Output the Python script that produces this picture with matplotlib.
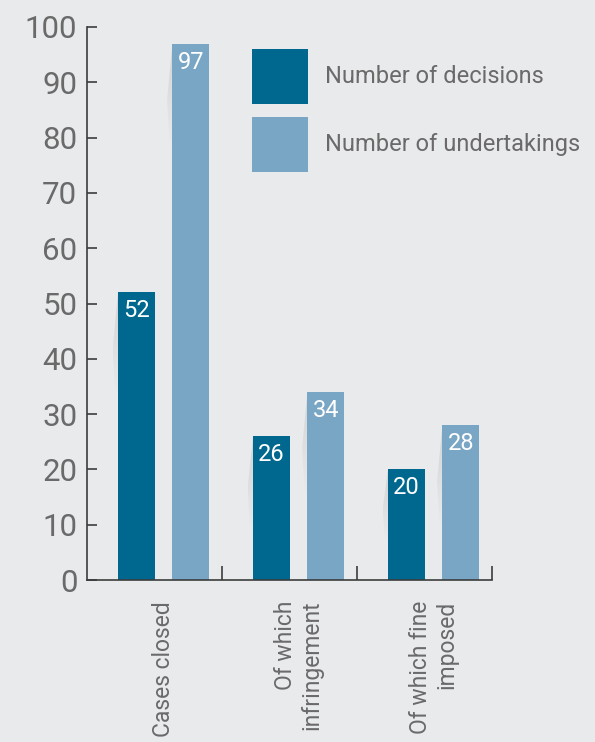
import numpy as np
import matplotlib
matplotlib.use("Agg")
import matplotlib.pyplot as plt
from matplotlib.patches import Patch, Polygon

plt.rcParams['font.family'] = ['Roboto', 'DejaVu Sans']

categories = ['Cases closed', 'Of which\ninfringement', 'Of which fine\nimposed']
decisions = [52, 26, 20]
undertakings = [97, 34, 28]
series_names = ['Number of decisions', 'Number of undertakings']
yticks = list(range(0, 101, 10))

bg = '#e9eaec'
c_dark = '#00688f'
c_light = '#79a6c5'
txt = '#6a6a6a'
axc = '#3c3c3c'

fig = plt.figure(figsize=(5.95, 7.42), dpi=100, facecolor=bg)
ax = fig.add_axes([87/595, 1-580/742, 405/595, 553/742])
ax.set_facecolor(bg)

x = np.arange(len(categories))
w = 0.274
off_d, off_l = -0.133, 0.270

def shadow(xl, top):
    # soft gradient shadow running down the left edge of a bar
    h = min(top * 0.6, 17)
    dx = 0.04
    poly = Polygon([(xl, top), (xl - dx, top - h * 0.6), (xl - dx * 0.6, top - h), (xl, top - h * 1.1)],
                   closed=True, facecolor='none', edgecolor='none')
    ax.add_patch(poly)
    grad = np.linspace(0.22, 0.0, 64).reshape(-1, 1)
    rgba = np.zeros((64, 1, 4))
    rgba[..., :3] = 0.5
    rgba[..., 3] = grad
    im = ax.imshow(rgba, extent=(xl - dx, xl, top - h * 1.1, top),
                   aspect='auto', origin='upper', zorder=1, interpolation='bilinear')
    im.set_clip_path(poly)

for xi, d, u in zip(x, decisions, undertakings):
    shadow(xi + off_d - w / 2, d)
    shadow(xi + off_l - w / 2, u)

bd = ax.bar(x + off_d, decisions, w, color=c_dark, zorder=2)
bl = ax.bar(x + off_l, undertakings, w, color=c_light, zorder=2)

for bars in (bd, bl):
    for b in bars:
        ax.annotate(f'{int(b.get_height())}', (b.get_x() + b.get_width() / 2, b.get_height()),
                    xytext=(0, -5), textcoords='offset points', ha='center', va='top',
                    color='white', fontsize=17, zorder=3)

ax.set_xlim(-0.5, 2.5)
ax.set_ylim(0, 100)
ax.set_yticks(yticks)
ax.tick_params(axis='y', direction='in', length=7, width=1.2, color=axc,
               labelsize=22.5, labelcolor=txt, pad=7)
ax.set_xticks(x + (off_d + off_l) / 2)
ax.set_xticklabels(categories, rotation=90, fontsize=16.5, color=txt,
                   ha='center', va='top', multialignment='right')
ax.tick_params(axis='x', length=0, pad=15)
ax.set_xticks([0.5, 1.5, 2.5], minor=True)
ax.tick_params(axis='x', which='minor', direction='in', length=10, width=1.2, color=axc)

for s in ('top', 'right'):
    ax.spines[s].set_visible(False)
for s in ('left', 'bottom'):
    ax.spines[s].set_color(axc)
    ax.spines[s].set_linewidth(1.2)

handles = [Patch(facecolor=c_dark), Patch(facecolor=c_light)]
leg = fig.legend(handles, series_names, loc='upper left',
                 bbox_to_anchor=(252/595, 1-49/742), frameon=False,
                 fontsize=17, labelcolor=txt, handlelength=2.37, handleheight=3.21,
                 handletextpad=0.72, labelspacing=0.55, borderpad=0, borderaxespad=0)

fig.savefig('out.png', dpi=100, facecolor=bg)
